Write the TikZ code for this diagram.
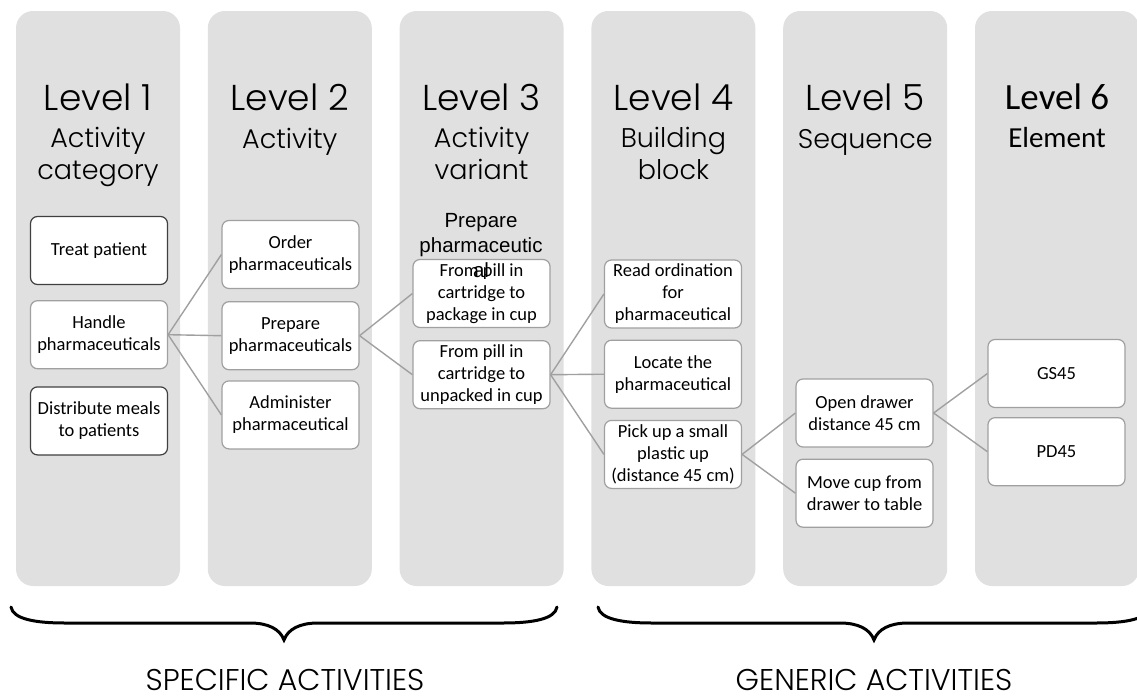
\documentclass[tikz,border=0pt]{standalone}
\usepackage{fontspec}
\setmainfont{Carlito}
\newfontfamily\gothic{Poppins}[UprightFont=* Light]
\newfontfamily\arialfont{Liberation Sans}
\usetikzlibrary{positioning}

\definecolor{colgray}{HTML}{E0E0E0}
\definecolor{linegray}{HTML}{A0A0A0}
\definecolor{darkedge}{HTML}{404040}

\tikzset{
  level/.style={fill=colgray, rounded corners=17pt},
  box/.style={draw=linegray, line width=1.2pt, fill=white, rounded corners=7pt,
    minimum width=137pt, minimum height=68pt, inner sep=2pt, align=center,
    font=\fontsize{18.5}{22}\selectfont},
  darkbox/.style={box, draw=darkedge},
  link/.style={draw=linegray, line width=1.4pt},
  title/.style={font=\gothic\fontsize{36}{40}\selectfont, inner sep=0pt, anchor=base},
  subtitle/.style={font=\gothic\fontsize{27}{32}\selectfont, inner sep=0pt, align=center, anchor=base},
  group/.style={font=\gothic\fontsize{30}{32}\selectfont, inner sep=0pt, anchor=base},
  brace line/.style={line width=3pt, line cap=round},
  curly/.pic={
    \draw[brace line] (0,0) .. controls (2,12) and (24,16) .. (54,16)
      -- ({#1/2-34},16) .. controls ({#1/2-16},16) and ({#1/2-4},22) .. ({#1/2},33)
      .. controls ({#1/2+4},22) and ({#1/2+16},16) .. ({#1/2+34},16)
      -- ({#1-54},16) .. controls ({#1-24},16) and ({#1-2},12) .. (#1,0);
  }
}

\begin{document}
\begin{tikzpicture}[x=1pt,y=-1pt]
  \useasboundingbox (0,0) rectangle (1137,699);

  % the six level columns
  \foreach \i in {0,...,5}
    \fill[level] ({16+191.8*\i},11) rectangle ++(164,575);

  % multi-line texts sit on the baseline of their last line
  \node[title] (lvl1) at (98,110) {Level 1};
  \node[subtitle] (sub1) at (98,179) {Activity\\category};
  \node[title] (lvl2) at (289.8,110) {Level 2};
  \node[subtitle] (sub2) at (289.8,148) {Activity};
  \node[title] (lvl3) at (481.6,110) {Level 3};
  \node[subtitle] (sub3) at (481.6,179) {Activity\\variant};
  \node[title] (lvl4) at (673.4,110) {Level 4};
  \node[subtitle] (sub4) at (673.4,179) {Building\\block};
  \node[title] (lvl5) at (865.2,110) {Level 5};
  \node[subtitle] (sub5) at (865.2,148) {Sequence};
  \node[title, font=\fontsize{37}{40}\selectfont] (lvl6) at (1057,109) {Level 6};
  \node[subtitle, font=\fontsize{29}{32}\selectfont] (sub6) at (1057,147) {Element};

  % level 1
  \node[darkbox] (treat) at (99,250.5) {Treat patient};
  \node[box, below=15pt of treat] (handle) {Handle\\pharmaceuticals};
  \node[darkbox, below=17pt of handle] (distribute) {Distribute meals\\to patients};

  % level 2
  \node[box] (order) at (290.5,254.5) {Order\\pharmaceuticals};
  \node[box, below=12pt of order] (prepare) {Prepare\\pharmaceuticals};
  \node[box, below=10pt of prepare] (admin) {Administer\\pharmaceutical};

  % level 3
  \node[box] (pkg) at (481.5,293.5) {From pill in\\cartridge to\\package in cup};
  \node[box, below=12pt of pkg] (unpk) {From pill in\\cartridge to\\unpacked in cup};

  % level 4
  \node[box] (read) at (673,294) {Read ordination\\for\\pharmaceutical};
  \node[box, below=11pt of read] (locate) {Locate the\\pharmaceutical};
  \node[box, below=11pt of locate] (pick) {Pick up a small\\plastic up\\(distance 45 cm)};

  % level 5
  \node[box] (opendr) at (864.5,413) {Open drawer\\distance 45 cm};
  \node[box, below=11pt of opendr] (movecup) {Move cup from\\drawer to table};

  % level 6
  \node[box] (gs) at (1056.5,373.5) {GS45};
  \node[box, below=9pt of gs] (pd) {PD45};

  \node[font=\arialfont\fontsize{20.5}{24.6}\selectfont, inner sep=0pt, align=center, anchor=base]
    (variantnote) at (481,277) {Prepare\\pharmaceutic\\al};

  \foreach \c in {order,prepare,admin} \draw[link] (handle.east) -- (\c.west);
  \foreach \c in {pkg,unpk} \draw[link] (prepare.east) -- (\c.west);
  \foreach \c in {read,locate,pick} \draw[link] (unpk.east) -- (\c.west);
  \foreach \c in {opendr,movecup} \draw[link] (pick.east) -- (\c.west);
  \foreach \c in {gs,pd} \draw[link] (opendr.east) -- (\c.west);

  \pic (specbrace) at (11,607) {curly=546};
  \pic (genbrace) at (598,607) {curly=552};

  \node[group] (specific) at (285,690) {SPECIFIC ACTIVITIES};
  \node[group] (generic) at (874,690) {GENERIC ACTIVITIES};
\end{tikzpicture}
\end{document}
